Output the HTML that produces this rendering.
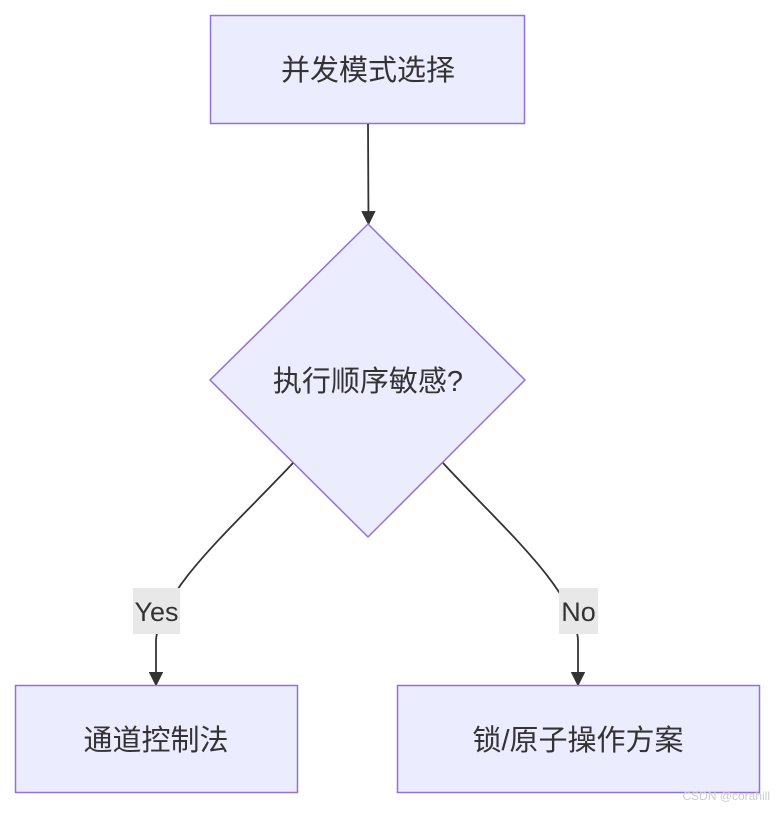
<!DOCTYPE html>
<html><head><meta charset="utf-8"><style>
body{margin:0;background:#fff;}
svg text{font-family:"Liberation Sans","Noto Sans CJK SC",sans-serif;fill:#333;}
</style></head><body>
<svg width="776" height="809" viewBox="0 0 776 809" xmlns="http://www.w3.org/2000/svg">
<defs><marker id="a" viewBox="0 0 10 10" refX="9" refY="5" markerWidth="8" markerHeight="8" orient="auto"><path d="M0,0L10,5L0,10z" fill="#333"/></marker></defs>
<rect x="210.5" y="15.5" width="314" height="108" fill="#ececff" stroke="#9370db" stroke-width="1.5"/>
<text x="368" y="80" font-size="29" text-anchor="middle">并发模式选择</text>
<path d="M368,124 L368.5,224" stroke="#333" stroke-width="1.8" fill="none" marker-end="url(#a)"/>
<polygon points="368,224 525,380 368,537 210,380" fill="#ececff" stroke="#9370db" stroke-width="1.5"/>
<text x="368" y="391" font-size="29" text-anchor="middle">执行顺序敏感?</text>
<path d="M293,463 C230,530 160,590 156,640 L156,685" stroke="#333" stroke-width="1.8" fill="none" marker-end="url(#a)"/>
<path d="M443,463 C505,530 575,590 578,640 L578,685" stroke="#333" stroke-width="1.8" fill="none" marker-end="url(#a)"/>
<rect x="133" y="588" width="47" height="46" fill="#e8e8e8"/>
<text x="156.5" y="621" font-size="27" text-anchor="middle">Yes</text>
<rect x="559" y="588" width="39" height="46" fill="#e8e8e8"/>
<text x="578.5" y="621" font-size="27" text-anchor="middle">No</text>
<rect x="15.5" y="685.5" width="282" height="107" fill="#ececff" stroke="#9370db" stroke-width="1.5"/>
<text x="156" y="750" font-size="29" text-anchor="middle">通道控制法</text>
<rect x="397.5" y="685.5" width="362" height="107" fill="#ececff" stroke="#9370db" stroke-width="1.5"/>
<text x="578" y="750" font-size="29" text-anchor="middle">锁/原子操作方案</text>
<text x="770" y="800" font-size="12" text-anchor="end" style="fill:#ccc">CSDN @corahill</text>
</svg>
</body></html>
